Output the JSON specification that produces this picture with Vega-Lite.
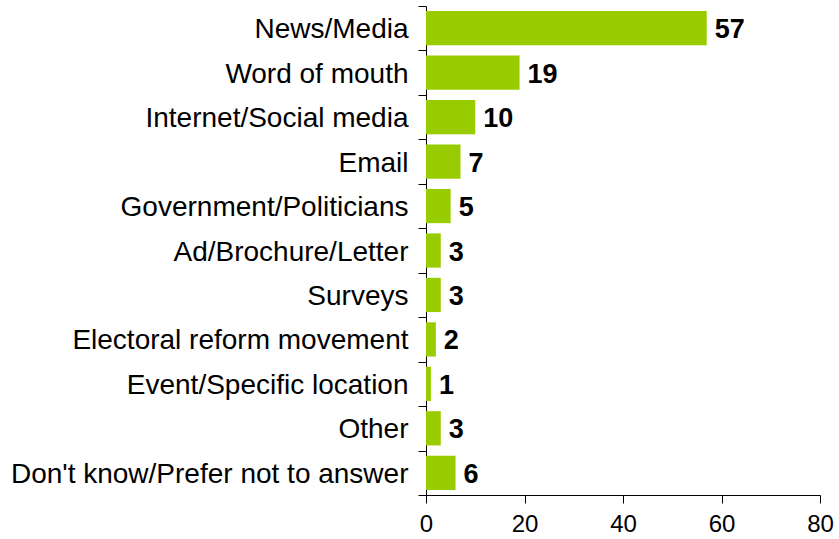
{
  "$schema": "https://vega.github.io/schema/vega-lite/v6.json",
  "autosize": {"type": "none"},
  "width": 394,
  "height": 489,
  "padding": {"left": 426, "top": 6, "right": 19, "bottom": 44},
  "background": "white",
  "config": {"view": {"stroke": null}, "font": "Liberation Sans"},
  "data": {
    "values": [
      {"source": "News/Media", "pct": 57},
      {"source": "Word of mouth", "pct": 19},
      {"source": "Internet/Social media", "pct": 10},
      {"source": "Email", "pct": 7},
      {"source": "Government/Politicians", "pct": 5},
      {"source": "Ad/Brochure/Letter", "pct": 3},
      {"source": "Surveys", "pct": 3},
      {"source": "Electoral reform movement", "pct": 2},
      {"source": "Event/Specific location", "pct": 1},
      {"source": "Other", "pct": 3},
      {"source": "Don't know/Prefer not to answer", "pct": 6}
    ]
  },
  "encoding": {
    "y": {
      "field": "source",
      "type": "nominal",
      "sort": null,
      "scale": {"paddingInner": 0, "paddingOuter": 0},
      "axis": {
        "title": null,
        "tickBand": "extent",
        "tickSize": 8,
        "tickColor": "black",
        "domainColor": "black",
        "labelFontSize": 28,
        "labelColor": "black",
        "labelPadding": 10,
        "labelOffset": 1.5,
        "labelLimit": 500
      }
    },
    "x": {
      "field": "pct",
      "type": "quantitative",
      "scale": {"domain": [0, 80]},
      "axis": {
        "title": null,
        "values": [0, 20, 40, 60, 80],
        "grid": false,
        "tickSize": 8,
        "tickColor": "black",
        "domainColor": "black",
        "labelFontSize": 24,
        "labelColor": "black",
        "labelPadding": 9,
        "labelFlush": false
      }
    }
  },
  "layer": [
    {"mark": {"type": "bar", "color": "#99CC00", "height": {"band": 0.77}}},
    {
      "mark": {"type": "text", "align": "left", "baseline": "middle", "dx": 8, "dy": 2, "fontSize": 27, "fontWeight": "bold", "color": "black"},
      "encoding": {"text": {"field": "pct", "type": "quantitative"}}
    }
  ]
}
